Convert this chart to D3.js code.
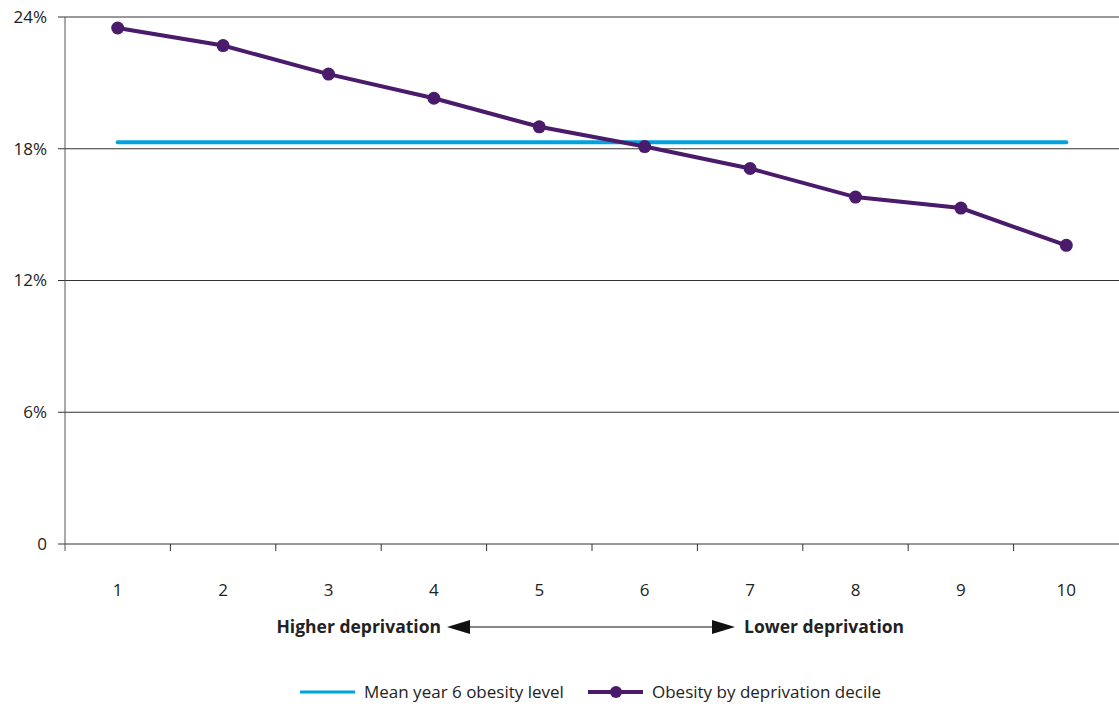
<!DOCTYPE html>
<html>
<head>
<meta charset="utf-8">
<script src="https://cdn.jsdelivr.net/npm/d3@7.9.0/dist/d3.min.js"></script>
<style>
  body { margin: 0; background: #fff; }
  svg text { font-family: "Open Sans", "Noto Sans", sans-serif; fill: #222; }
</style>
</head>
<body>
<svg width="1119" height="706"></svg>
<script>
const deciles = ['1', '2', '3', '4', '5', '6', '7', '8', '9', '10'];
const obesityByDecile = [23.5, 22.7, 21.4, 20.3, 19.0, 18.1, 17.1, 15.8, 15.3, 13.6];
const meanObesity = [18.3, 18.3, 18.3, 18.3, 18.3, 18.3, 18.3, 18.3, 18.3, 18.3];
const yTicks = [0, 6, 12, 18, 24];

const svg = d3.select('svg');
const plotLeft = 65, plotRight = 1119, plotTop = 17, plotBottom = 544;

const x = d3.scaleBand().domain(deciles).range([plotLeft, plotRight]);
const y = d3.scaleLinear().domain([0, 24]).range([plotBottom, plotTop]);
const cx = (d) => x(d) + x.bandwidth() / 2;

// gridlines
svg.append('g')
  .selectAll('line')
  .data(yTicks)
  .join('line')
  .attr('x1', plotLeft - 7).attr('x2', plotRight)
  .attr('y1', (d) => y(d)).attr('y2', (d) => y(d))
  .attr('stroke', '#333').attr('stroke-width', 1);

// y axis line
svg.append('line')
  .attr('x1', plotLeft).attr('x2', plotLeft)
  .attr('y1', plotTop).attr('y2', plotBottom + 7)
  .attr('stroke', '#555').attr('stroke-width', 1);

svg.append('g')
  .selectAll('text')
  .data(yTicks)
  .join('text')
  .attr('x', 47).attr('y', (d) => y(d))
  .attr('dy', '0.35em')
  .attr('text-anchor', 'end')
  .attr('font-size', 17)
  .text((d) => d === 0 ? '0' : d + '%');

// x ticks at band boundaries
svg.append('g')
  .selectAll('line')
  .data(deciles.slice(1))
  .join('line')
  .attr('x1', (d) => x(d)).attr('x2', (d) => x(d))
  .attr('y1', plotBottom).attr('y2', plotBottom + 7)
  .attr('stroke', '#333');

svg.append('g')
  .selectAll('text')
  .data(deciles)
  .join('text')
  .attr('x', cx).attr('y', 596)
  .attr('text-anchor', 'middle')
  .attr('font-size', 17)
  .text((d) => d);

// mean line
const line = d3.line().x((d, i) => cx(deciles[i])).y((d) => y(d));
svg.append('path')
  .attr('d', line(meanObesity))
  .attr('fill', 'none')
  .attr('stroke', '#00a3e0')
  .attr('stroke-width', 4)
  .attr('stroke-linecap', 'round');

// decile line
svg.append('path')
  .attr('d', line(obesityByDecile))
  .attr('fill', 'none')
  .attr('stroke', '#4a1a6b')
  .attr('stroke-width', 4);

svg.append('g')
  .selectAll('circle')
  .data(obesityByDecile)
  .join('circle')
  .attr('cx', (d, i) => cx(deciles[i]))
  .attr('cy', (d) => y(d))
  .attr('r', 6.5)
  .attr('fill', '#4a1a6b');

// deprivation arrow
const ay = 627;
svg.append('text')
  .attr('x', 441).attr('y', ay).attr('dy', '0.35em')
  .attr('text-anchor', 'end')
  .attr('font-size', 17.5).attr('font-weight', 'bold')
  .text('Higher deprivation');
svg.append('text')
  .attr('x', 744).attr('y', ay).attr('dy', '0.35em')
  .attr('font-size', 17.5).attr('font-weight', 'bold')
  .text('Lower deprivation');
svg.append('line')
  .attr('x1', 455).attr('x2', 725)
  .attr('y1', ay).attr('y2', ay)
  .attr('stroke', '#111').attr('stroke-width', 1.2);
svg.append('path')
  .attr('d', `M447,${ay} L470,${ay - 7} L470,${ay + 7} Z`)
  .attr('fill', '#111');
svg.append('path')
  .attr('d', `M735,${ay} L712,${ay - 7} L712,${ay + 7} Z`)
  .attr('fill', '#111');

// legend
const ly = 692;
svg.append('line')
  .attr('x1', 300).attr('x2', 355).attr('y1', ly).attr('y2', ly)
  .attr('stroke', '#00a3e0').attr('stroke-width', 3);
svg.append('text')
  .attr('x', 364).attr('y', ly).attr('dy', '0.35em')
  .attr('font-size', 17)
  .text('Mean year 6 obesity level');
svg.append('line')
  .attr('x1', 588).attr('x2', 643).attr('y1', ly).attr('y2', ly)
  .attr('stroke', '#4a1a6b').attr('stroke-width', 4);
svg.append('circle')
  .attr('cx', 616).attr('cy', ly).attr('r', 6)
  .attr('fill', '#4a1a6b');
svg.append('text')
  .attr('x', 652).attr('y', ly).attr('dy', '0.35em')
  .attr('font-size', 17)
  .text('Obesity by deprivation decile');
</script>
</body>
</html>
